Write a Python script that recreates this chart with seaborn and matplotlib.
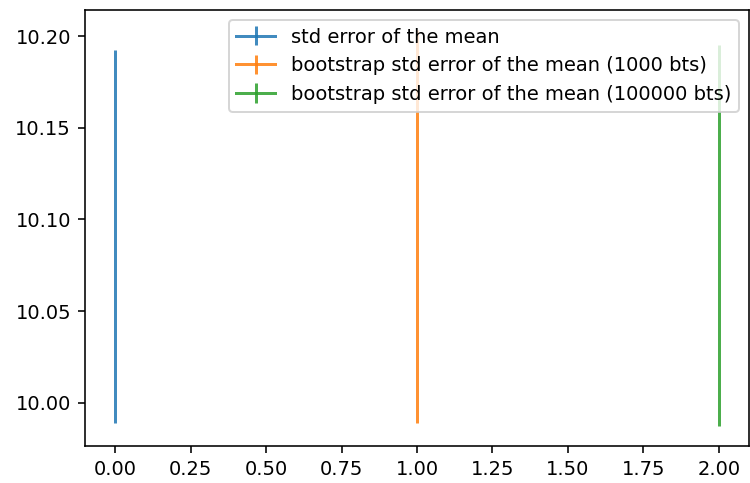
import matplotlib
matplotlib.use("Agg")
import matplotlib.pyplot as plt
import seaborn as sns
import pandas as pd

labels = [
    "std error of the mean",
    "bootstrap std error of the mean (1000 bts)",
    "bootstrap std error of the mean (100000 bts)",
]
positions = [0, 1, 2]
means = [10.0908, 10.0963, 10.0912]
errors = [0.1018, 0.1071, 0.1039]

df = pd.DataFrame({"label": labels, "x": positions, "mean": means, "err": errors})
colors = sns.color_palette("tab10", len(df))

plt.rcParams["font.size"] = 9.75

fig = plt.figure(figsize=(750 / 144, 483 / 144), dpi=144)
ax = fig.add_axes([85 / 750, 1 - 446 / 483, 664 / 750, 436 / 483])

for (_, row), c in zip(df.iterrows(), colors):
    ax.errorbar(row["x"], row["mean"], yerr=row["err"], color=c,
                alpha=0.85, label=row["label"])

ax.legend()
fig.savefig("out.png", dpi=144)
